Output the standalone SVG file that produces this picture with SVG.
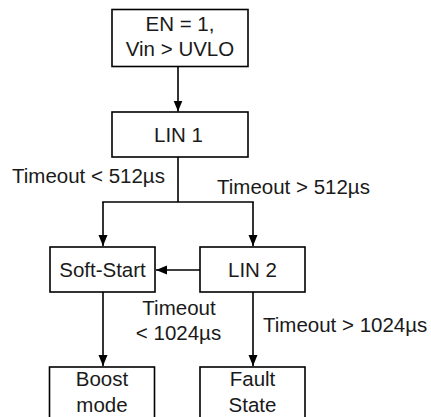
<svg xmlns="http://www.w3.org/2000/svg" width="431" height="417" viewBox="0 0 431 417">
<style>
.box{fill:#fff;stroke:#000;stroke-width:1.6}
.ln{fill:none;stroke:#000;stroke-width:1.6}
text{font-family:"Liberation Sans",Arial,sans-serif;font-size:20.5px;fill:#1a1a1a}
.c{text-anchor:middle}
</style>
<defs>
<marker id="ah" markerUnits="userSpaceOnUse" markerWidth="12" markerHeight="12" viewBox="0 0 12 12" refX="11" refY="6" orient="auto">
<path d="M0,1.5 L11,6 L0,10.5 Z" fill="#000"/>
</marker>
</defs>
<rect width="431" height="417" fill="#fff"/>
<g id="connectors">
<line class="ln" x1="178" y1="67" x2="178" y2="111.5" marker-end="url(#ah)"/>
<polyline class="ln" points="178,157 178,202"/>
<line class="ln" x1="102.2" y1="202" x2="253.8" y2="202"/>
<line class="ln" x1="103" y1="202" x2="103" y2="246" marker-end="url(#ah)"/>
<line class="ln" x1="253" y1="202" x2="253" y2="246" marker-end="url(#ah)"/>
<line class="ln" x1="200" y1="270" x2="156" y2="270" marker-end="url(#ah)"/>
<line class="ln" x1="103" y1="292" x2="103" y2="366" marker-end="url(#ah)"/>
<line class="ln" x1="253" y1="292" x2="253" y2="366" marker-end="url(#ah)"/>
<text x="12" y="183">Timeout &lt; 512µs</text>
<text x="217" y="194">Timeout &gt; 512µs</text>
<text class="c" x="179" y="315">Timeout</text>
<text class="c" x="178.5" y="340">&lt; 1024µs</text>
<text x="263" y="332">Timeout &gt; 1024µs</text>
</g>
<g id="start">
<rect class="box" x="112" y="9.5" width="136" height="57"/>
<text class="c" x="180" y="31">EN = 1,</text>
<text class="c" x="180" y="55.5">Vin &gt; UVLO</text>
</g>
<g id="lin1">
<rect class="box" x="112" y="112" width="136" height="45"/>
<text class="c" x="178.5" y="141.5">LIN 1</text>
</g>
<g id="softstart">
<rect class="box" x="50" y="247" width="105" height="45"/>
<text class="c" x="102.5" y="277">Soft-Start</text>
</g>
<g id="lin2">
<rect class="box" x="200" y="247" width="105" height="45"/>
<text class="c" x="252.5" y="277">LIN 2</text>
</g>
<g id="boost">
<rect class="box" x="49.5" y="367" width="105" height="60"/>
<text class="c" x="102" y="386">Boost</text>
<text class="c" x="102" y="411.5">mode</text>
</g>
<g id="fault">
<rect class="box" x="200" y="367" width="105" height="60"/>
<text class="c" x="252.5" y="386">Fault</text>
<text class="c" x="252.5" y="411.5">State</text>
</g>
</svg>
